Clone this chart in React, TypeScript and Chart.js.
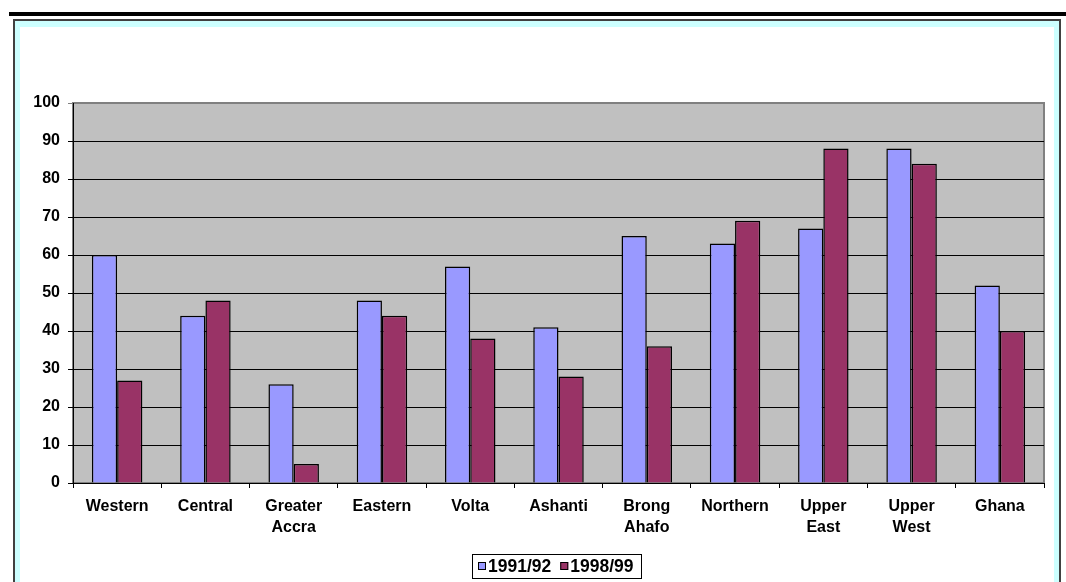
import React, { useEffect, useRef } from "react";
import { Chart, registerables } from "chart.js";

Chart.register(...registerables);

// Regions (multi-line labels are arrays)
const regions: (string | string[])[] = [
  "Western",
  "Central",
  ["Greater", "Accra"],
  "Eastern",
  "Volta",
  "Ashanti",
  ["Brong", "Ahafo"],
  "Northern",
  ["Upper", "East"],
  ["Upper", "West"],
  "Ghana",
];

const seriesNames = ["1991/92", "1998/99"];
const values1991 = [60, 44, 26, 48, 57, 41, 65, 63, 67, 88, 52];
const values1998 = [27, 48, 5, 44, 38, 28, 36, 69, 88, 84, 40];
const seriesColors = ["#9999FF", "#993366"];

const yMin = 0;
const yMax = 100;
const yStep = 10;

const FONT = "'Liberation Sans', Arial, sans-serif";

// Grey plot background with a darker frame around the plotting area
const plotBackground = {
  id: "plotBackground",
  beforeDraw(chart: any) {
    const { ctx, chartArea: a } = chart;
    ctx.save();
    ctx.fillStyle = "#C0C0C0";
    ctx.fillRect(a.left, a.top, a.right - a.left, a.bottom - a.top);
    ctx.strokeStyle = "#808080";
    ctx.lineWidth = 2;
    ctx.strokeRect(a.left, a.top, a.right - a.left, a.bottom - a.top);
    ctx.restore();
  },
};

// Boxed legend centred under the plot area
const boxedLegend = {
  id: "boxedLegend",
  afterDraw(chart: any) {
    const { ctx, chartArea: a } = chart;
    ctx.save();
    ctx.font = `bold 17.5px ${FONT}`;
    ctx.textBaseline = "middle";
    const sq = 8;
    const padL = 6;
    const gap = 2;
    const between = 9;
    const padR = 7;
    const items = chart.data.datasets.map((d: any) => ({
      label: d.label as string,
      color: d.backgroundColor as string,
      w: ctx.measureText(d.label).width,
    }));
    let total = padL + padR;
    items.forEach((it: any, i: number) => {
      total += sq + gap + it.w + (i < items.length - 1 ? between : 0);
    });
    const cx = 556;
    const top = 554;
    const h = 24;
    const left = Math.round(cx - total / 2);
    ctx.fillStyle = "#FFFFFF";
    ctx.fillRect(left, top, total, h);
    ctx.strokeStyle = "#000000";
    ctx.lineWidth = 1;
    ctx.strokeRect(left + 0.5, top + 0.5, Math.round(total), h);
    let x = left + padL;
    const mid = top + 12;
    items.forEach((it: any) => {
      ctx.fillStyle = it.color;
      ctx.fillRect(x, mid - sq / 2, sq, sq);
      ctx.strokeStyle = "#000000";
      ctx.strokeRect(x + 0.5, mid - sq / 2 + 0.5, sq - 1, sq - 1);
      x += sq + gap;
      ctx.fillStyle = "#000000";
      ctx.textAlign = "left";
      ctx.fillText(it.label, x, mid + 1);
      x += it.w + between;
    });
    ctx.restore();
  },
};

function BarChart() {
  const canvasRef = useRef<HTMLCanvasElement | null>(null);

  useEffect(() => {
    if (!canvasRef.current) return;
    const chart = new Chart(canvasRef.current, {
      type: "bar",
      data: {
        labels: regions,
        datasets: [
          {
            label: seriesNames[0],
            data: values1991,
            backgroundColor: seriesColors[0],
            borderColor: "#000000",
            borderWidth: 1.5,
          },
          {
            label: seriesNames[1],
            data: values1998,
            backgroundColor: seriesColors[1],
            borderColor: "#000000",
            borderWidth: 1.5,
          },
        ],
      },
      options: {
        animation: false,
        responsive: false,
        maintainAspectRatio: false,
        devicePixelRatio: 1,
        layout: { padding: { left: 0, top: 103, right: 22, bottom: 39 } },
        datasets: {
          bar: { categoryPercentage: 0.572, barPercentage: 1 },
        },
        plugins: {
          legend: { display: false },
          tooltip: { enabled: false },
          title: { display: false },
        },
        scales: {
          x: {
            afterFit: (s: any) => {
              s.height = 60;
            },
            grid: {
              offset: true,
              drawOnChartArea: false,
              drawTicks: true,
              tickLength: 5,
              color: "#000000",
            },
            border: { display: true, color: "#000000", width: 1 },
            ticks: {
              color: "#000000",
              font: { family: FONT, size: 16, weight: "bold", lineHeight: 1.3 },
              padding: 8,
              maxRotation: 0,
              autoSkip: false,
            },
          },
          y: {
            min: yMin,
            max: yMax,
            afterFit: (s: any) => {
              s.width = 73;
            },
            grid: {
              color: (c: any) => (c.tick && c.tick.value === yMax ? "#808080" : "#000000"),
              lineWidth: 1,
              tickLength: 5,
              drawTicks: true,
            },
            border: { display: true, color: "#000000", width: 1 },
            ticks: {
              stepSize: yStep,
              color: "#000000",
              font: { family: FONT, size: 16, weight: "bold" },
              padding: 8,
            },
          },
        },
      },
      plugins: [plotBackground, boxedLegend],
    });
    return () => chart.destroy();
  }, []);

  return (
    <canvas
      ref={canvasRef}
      width={1066}
      height={582}
      style={{ position: "absolute", left: 0, top: 0, width: 1066, height: 582 }}
    />
  );
}

export default function App() {
  return (
    <div
      style={{
        position: "fixed",
        left: 0,
        top: 0,
        width: 1066,
        height: 582,
        background: "#FFFFFF",
        overflow: "hidden",
      }}
    >
      {/* heavy rule above the frame */}
      <div
        style={{
          position: "absolute",
          left: 9,
          top: 12,
          width: 1057,
          height: 4,
          background: "#000000",
        }}
      />
      {/* framed panel: dark outline with a pale cyan inner band */}
      <div
        style={{
          position: "absolute",
          left: 13,
          top: 19,
          width: 1048,
          height: 600,
          boxSizing: "border-box",
          border: "2px solid #404040",
        }}
      >
        <div
          style={{
            position: "absolute",
            left: 0,
            top: 0,
            right: 0,
            bottom: 0,
            boxSizing: "border-box",
            borderStyle: "solid",
            borderColor: "#CCFFFF",
            borderWidth: "6px 5px 0 5px",
            background: "#FFFFFF",
          }}
        />
      </div>
      <BarChart />
    </div>
  );
}
